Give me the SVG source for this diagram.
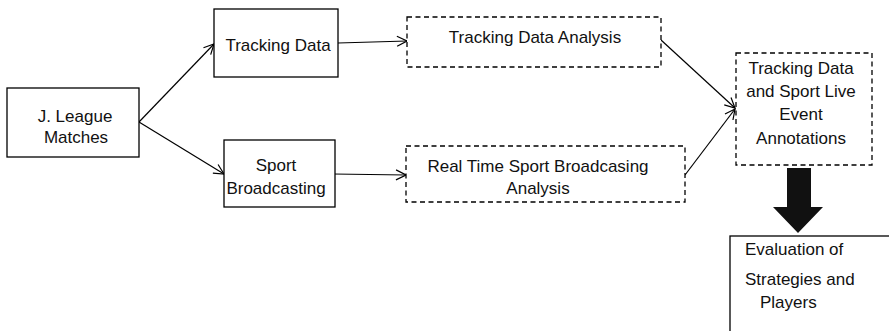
<svg xmlns="http://www.w3.org/2000/svg" width="889" height="331" viewBox="0 0 889 331">
  <defs>
    <style>
      .box { fill: #fff; stroke: #000; stroke-width: 1.3; }
      .dash { fill: #fff; stroke: #000; stroke-width: 1.3; stroke-dasharray: 5 3.5; }
      .lbl { font-family: "Liberation Sans", Arial, sans-serif; font-size: 17px; fill: #111; text-anchor: middle; }
      .lft { text-anchor: start; }
      .edge { fill: none; stroke: #000; stroke-width: 1.2; marker-end: url(#open); }
    </style>
    <marker id="open" viewBox="0 0 12 12" refX="11" refY="6" markerWidth="12" markerHeight="12" markerUnits="userSpaceOnUse" orient="auto">
      <path d="M1,1 L11,6 L1,11" fill="none" stroke="#000" stroke-width="1.2"/>
    </marker>
  </defs>

  <rect width="889" height="331" fill="#fff"/>

  <g id="connectors">
    <line class="edge" x1="139" y1="122" x2="214" y2="44"/>
    <line class="edge" x1="139" y1="122" x2="224" y2="174"/>
    <line class="edge" x1="338" y1="43" x2="407" y2="41"/>
    <line class="edge" x1="333" y1="174" x2="406" y2="175"/>
    <line class="edge" x1="661" y1="40" x2="735" y2="108"/>
    <line class="edge" x1="685" y1="175" x2="735" y2="109"/>
    <!-- solid block arrow down to the evaluation box -->
    <path d="M787,168 L811,168 L811,207 L823,207 L798,233 L773,207 L787,207 Z" fill="#111"/>
  </g>

  <g id="jleague">
    <rect class="box" x="7" y="88" width="132" height="69"/>
    <text class="lbl" x="75" y="122">J. League</text>
    <text class="lbl" x="76" y="143">Matches</text>
  </g>

  <g id="tracking">
    <rect class="box" x="214" y="9" width="124" height="68"/>
    <text class="lbl" x="278" y="51">Tracking Data</text>
  </g>

  <g id="broadcast">
    <rect class="box" x="224" y="140" width="111" height="67"/>
    <text class="lbl" x="276" y="171">Sport</text>
    <text class="lbl" x="276" y="194">Broadcasting</text>
  </g>

  <g id="tracking-analysis">
    <rect class="dash" x="407" y="17" width="254" height="50"/>
    <text class="lbl" x="535" y="43">Tracking Data Analysis</text>
  </g>

  <g id="broadcast-analysis">
    <rect class="dash" x="406" y="146" width="279" height="56"/>
    <text class="lbl" x="538" y="172">Real Time Sport Broadcasing</text>
    <text class="lbl" x="538" y="194">Analysis</text>
  </g>

  <g id="annotations">
    <rect class="dash" x="736" y="53" width="136" height="112"/>
    <text class="lbl" x="801" y="74">Tracking Data</text>
    <text class="lbl" x="801" y="97">and Sport Live</text>
    <text class="lbl" x="801" y="120">Event</text>
    <text class="lbl" x="801" y="144">Annotations</text>
  </g>

  <g id="evaluation">
    <rect class="box" x="730" y="236" width="170" height="110"/>
    <text class="lbl lft" x="745" y="255">Evaluation of</text>
    <text class="lbl lft" x="745" y="285">Strategies and</text>
    <text class="lbl lft" x="760" y="308">Players</text>
  </g>
</svg>
